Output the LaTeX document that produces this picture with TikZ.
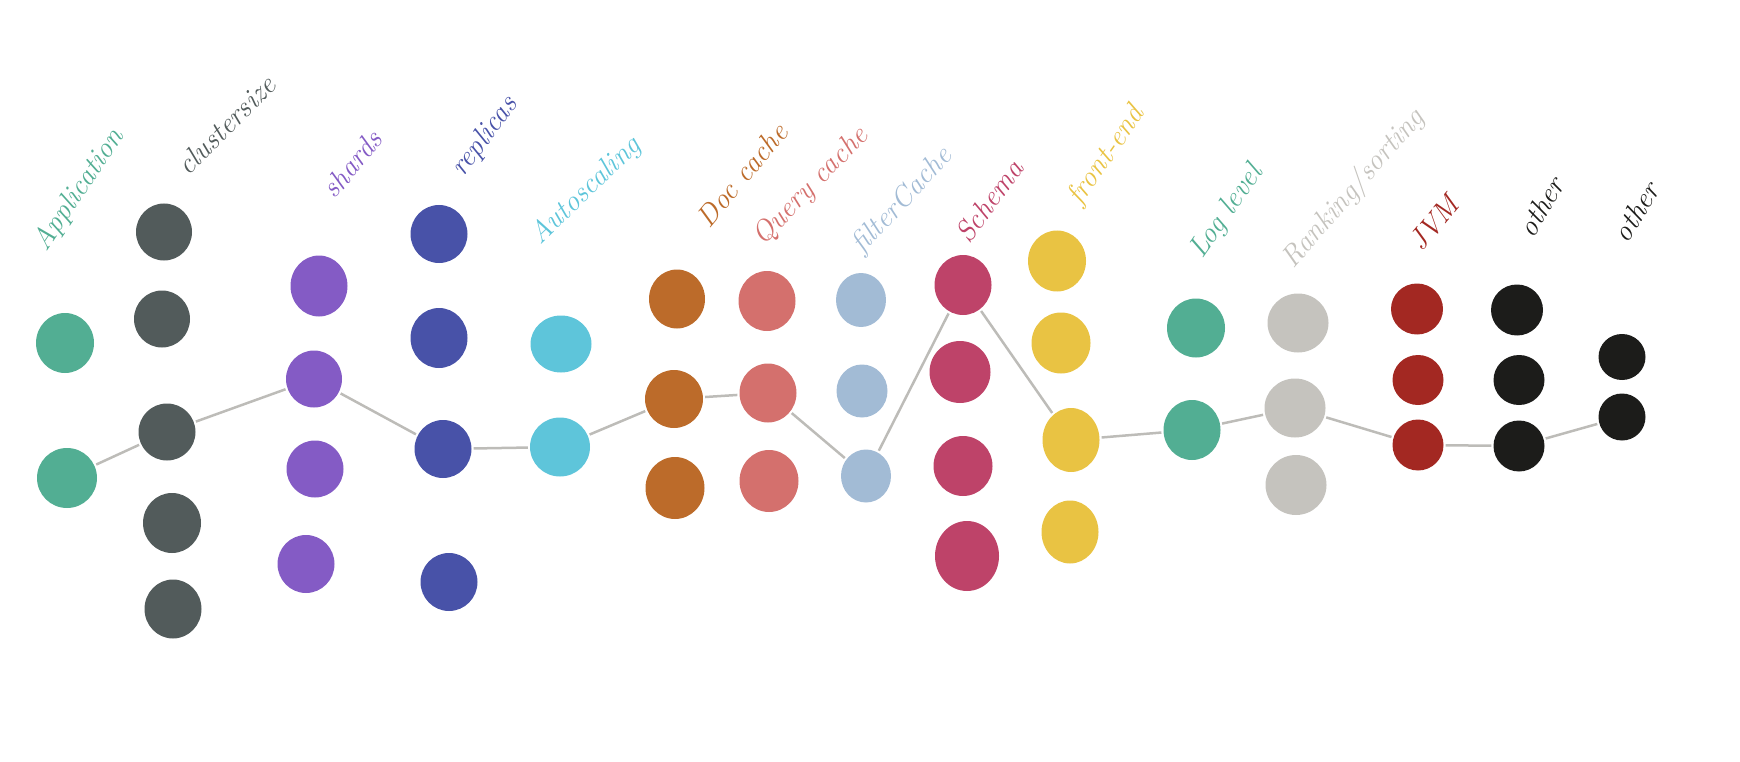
\documentclass[tikz,border=0pt]{standalone}
\usetikzlibrary{shapes.geometric}
\definecolor{cgreen}{HTML}{52AE93}
\definecolor{cslate}{HTML}{525B5B}
\definecolor{cpurple}{HTML}{845BC5}
\definecolor{cblue}{HTML}{4852A8}
\definecolor{ccyan}{HTML}{5EC5DA}
\definecolor{corange}{HTML}{BC6B2A}
\definecolor{cpink}{HTML}{D4706D}
\definecolor{clblue}{HTML}{A2BBD5}
\definecolor{ccrimson}{HTML}{BE4369}
\definecolor{cyellow}{HTML}{E9C343}
\definecolor{clgray}{HTML}{C5C3BE}
\definecolor{cred}{HTML}{A32822}
\definecolor{cblack}{HTML}{1C1C1A}
\definecolor{clink}{HTML}{BDBCB8}
\tikzset{
  blob/.style={ellipse, fill=#1, draw=none, inner sep=0pt},
  sz/.style 2 args={minimum width=#1pt, minimum height=#2pt},
  link/.style={draw=clink, line width=2.5pt, shorten >=2pt, shorten <=2pt},
  lab/.style={text=#1, font=\fontsize{29}{29}\selectfont\itshape, inner sep=0pt, anchor=center},
}
\begin{document}
\begin{tikzpicture}[x=1pt,y=-1pt]
\useasboundingbox (0,0) rectangle (1740,762);
% Application
\node[blob=cgreen, sz={58}{60}] (a1) at (65,343) {};
\node[blob=cgreen, sz={60}{60}] (a2) at (67,478) {};
% clustersize
\node[blob=cslate, sz={56}{57}] (c1) at (164,232) {};
\node[blob=cslate, sz={56}{57}] (c2) at (162,319) {};
\node[blob=cslate, sz={57}{57}] (c3) at (167,432) {};
\node[blob=cslate, sz={58}{60}] (c4) at (172,523) {};
\node[blob=cslate, sz={57}{59}] (c5) at (173,609) {};
% shards
\node[blob=cpurple, sz={57}{61}] (s1) at (319,286) {};
\node[blob=cpurple, sz={56}{57}] (s2) at (314,379) {};
\node[blob=cpurple, sz={57}{57}] (s3) at (315,469) {};
\node[blob=cpurple, sz={57}{58}] (s4) at (306,564) {};
% replicas
\node[blob=cblue, sz={57}{58}] (r1) at (439,234) {};
\node[blob=cblue, sz={57}{60}] (r2) at (439,338) {};
\node[blob=cblue, sz={57}{58}] (r3) at (443,449) {};
\node[blob=cblue, sz={57}{58}] (r4) at (449,582) {};
% Autoscaling
\node[blob=ccyan, sz={61}{57}] (u1) at (561,344) {};
\node[blob=ccyan, sz={60}{59}] (u2) at (560,447) {};
% Doc cache
\node[blob=corange, sz={56}{59}] (d1) at (677,299) {};
\node[blob=corange, sz={58}{58}] (d2) at (674,399) {};
\node[blob=corange, sz={59}{62}] (d3) at (675,488) {};
% Query cache
\node[blob=cpink, sz={57}{60}] (q1) at (767,301) {};
\node[blob=cpink, sz={57}{59}] (q2) at (768,393) {};
\node[blob=cpink, sz={59}{62}] (q3) at (769,481) {};
% filter cache
\node[blob=clblue, sz={50}{54}] (f1) at (861,300) {};
\node[blob=clblue, sz={51}{53}] (f2) at (862,391) {};
\node[blob=clblue, sz={50}{53}] (f3) at (866,476) {};
% Schema
\node[blob=ccrimson, sz={57}{60}] (h1) at (963,285) {};
\node[blob=ccrimson, sz={61}{62}] (h2) at (960,372) {};
\node[blob=ccrimson, sz={59}{60}] (h3) at (963,466) {};
\node[blob=ccrimson, sz={64}{70}] (h4) at (967,556) {};
% front-end
\node[blob=cyellow, sz={58}{61}] (e1) at (1057,261) {};
\node[blob=cyellow, sz={59}{61}] (e2) at (1061,343) {};
\node[blob=cyellow, sz={57}{64}] (e3) at (1071,440) {};
\node[blob=cyellow, sz={57}{63}] (e4) at (1070,532) {};
% Log level
\node[blob=cgreen, sz={58}{59}] (l1) at (1196,328) {};
\node[blob=cgreen, sz={57}{60}] (l2) at (1192,430) {};
% Ranking/sorting
\node[blob=clgray, sz={61}{59}] (k1) at (1298,323) {};
\node[blob=clgray, sz={61}{59}] (k2) at (1295,408) {};
\node[blob=clgray, sz={61}{60}] (k3) at (1296,485) {};
% JVM
\node[blob=cred, sz={52}{51}] (j1) at (1417,309) {};
\node[blob=cred, sz={51}{50}] (j2) at (1418,380) {};
\node[blob=cred, sz={51}{51}] (j3) at (1418,445) {};
% other 1
\node[blob=cblack, sz={52}{51}] (o1) at (1517,310) {};
\node[blob=cblack, sz={51}{50}] (o2) at (1519,380) {};
\node[blob=cblack, sz={51}{51}] (o3) at (1519,446) {};
% other 2
\node[blob=cblack, sz={47}{46}] (p1) at (1622,357) {};
\node[blob=cblack, sz={47}{47}] (p2) at (1622,417) {};
% path
\draw[link] (a2) -- (c3);
\draw[link] (c3) -- (s2);
\draw[link] (s2) -- (r3);
\draw[link] (r3) -- (u2);
\draw[link] (u2) -- (d2);
\draw[link] (d2) -- (q2);
\draw[link] (q2) -- (f3);
\draw[link] (f3) -- (h1);
\draw[link] (h1) -- (e3);
\draw[link] (e3) -- (l2);
\draw[link] (l2) -- (k2);
\draw[link] (k2) -- (j3);
\draw[link] (j3) -- (o3);
\draw[link] (o3) -- (p2);
% labels
\node[lab=cgreen, rotate=56] (ta) at (79,190) {Application};
\node[lab=cslate, rotate=45] (tc) at (226,125) {clustersize};
\node[lab=cpurple, rotate=50] (ts) at (352,164) {shards};
\node[lab=cblue, rotate=53] (tr) at (485,137) {replicas};
\node[lab=ccyan, rotate=44] (tu) at (586,191) {Autoscaling};
\node[lab=corange, rotate=50] (td) at (742,175) {Doc cache};
\node[lab=cpink, rotate=46] (tq) at (811,187) {Query cache};
\node[lab=clblue, rotate=47] (tf) at (903,201) {filterCache};
\node[lab=ccrimson, rotate=54] (th) at (989,201) {Schema};
\node[lab=cyellow, rotate=55] (te) at (1107,156) {front-end};
\node[lab=cgreen, rotate=55] (tl) at (1227,212) {Log level};
\node[lab=clgray, rotate=49] (tk) at (1354,189) {Ranking/sorting};
\node[lab=cred, rotate=50] (tj) at (1434,223) {JVM};
\node[lab=cblack, rotate=59] (to) at (1541,207) {other};
\node[lab=cblack, rotate=58] (tp) at (1636,212) {other};
\end{tikzpicture}
\end{document}
